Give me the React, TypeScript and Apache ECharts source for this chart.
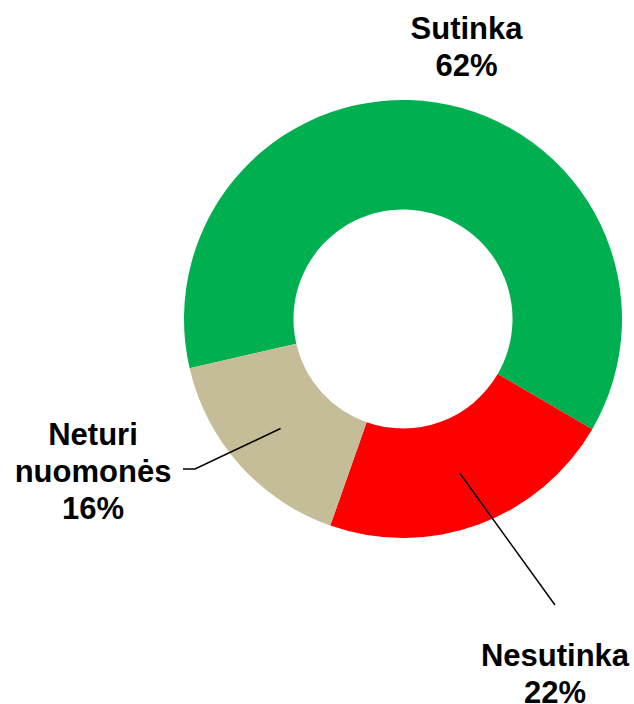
import React, { useEffect, useRef } from 'react';
import * as echarts from 'echarts';

// Data
const categories = ['Sutinka', 'Nesutinka', 'Neturi nuomonės'];
const values = [62, 22, 16];
const colors = ['#00B050', '#FF0000', '#C4BD97'];

// Layout
const W = 634;
const H = 704;
const CX = 403;
const CY = 319;
const R_OUT = 219;
const R_IN = 109.5;
const START_ANGLE = 193;
const LABEL_POS: number[][] = [
  [466.5, 47],
  [555, 674],
  [93, 471],
];
const LINE_TAIL: (number[][] | null)[] = [null, [[555, 605]], [[195, 469], [183, 469]]];

export default function App() {
  const ref = useRef<HTMLDivElement>(null);
  useEffect(() => {
    const chart = echarts.init(ref.current!, null, { renderer: 'svg', width: W, height: H });
    const total = values.reduce((a, b) => a + b, 0);
    const lineStart = (i: number) => {
      const before = values.slice(0, i).reduce((a, b) => a + b, 0);
      const mid = ((START_ANGLE - (360 * (before + values[i] / 2)) / total) * Math.PI) / 180;
      const r = (R_IN + R_OUT) / 2;
      return [CX + r * Math.cos(mid), CY - r * Math.sin(mid)];
    };
    const common = {
      type: 'pie',
      center: [CX, CY],
      radius: [R_IN, R_OUT],
      startAngle: START_ANGLE,
      clockwise: true,
      avoidLabelOverlap: false,
      animation: false,
      emphasis: { disabled: true },
      silent: true,
    };
    chart.setOption({
      animation: false,
      backgroundColor: '#ffffff',
      series: [
        {
          ...common,
          z: 2,
          itemStyle: { borderWidth: 0 },
          label: { show: false },
          labelLine: { show: false },
          data: categories.map((name, i) => ({
            name,
            value: values[i],
            itemStyle: { color: colors[i] },
          })),
        },
        {
          ...common,
          z: 5,
          itemStyle: { borderWidth: 0, color: 'rgba(0,0,0,0)' },
          label: {
            show: true,
            position: 'outside',
            formatter: (p: any) => p.name.replace(' ', '\n') + '\n' + Math.round(p.percent) + '%',
            fontFamily: '"Liberation Sans", Arial, sans-serif',
            fontWeight: 'bold',
            fontSize: 31,
            lineHeight: 37,
            color: '#000000',
          },
          labelLine: {
            show: true,
            lineStyle: { color: '#000000', width: 1.5, opacity: 1 },
          },
          data: categories.map((name, i) => ({
            name,
            value: values[i],
            labelLine: { show: LINE_TAIL[i] != null },
          })),
          labelLayout: (params: any) => {
            const i = params.dataIndex;
            const out: any = {
              x: LABEL_POS[i][0],
              y: LABEL_POS[i][1],
              align: 'center',
              verticalAlign: 'middle',
            };
            const tail = LINE_TAIL[i];
            if (tail) out.labelLinePoints = [lineStart(i), ...tail];
            return out;
          },
        },
      ],
    });
    return () => chart.dispose();
  }, []);
  return (
    <div
      ref={ref}
      style={{ position: 'fixed', left: 0, top: 0, width: W, height: H }}
    />
  );
}
